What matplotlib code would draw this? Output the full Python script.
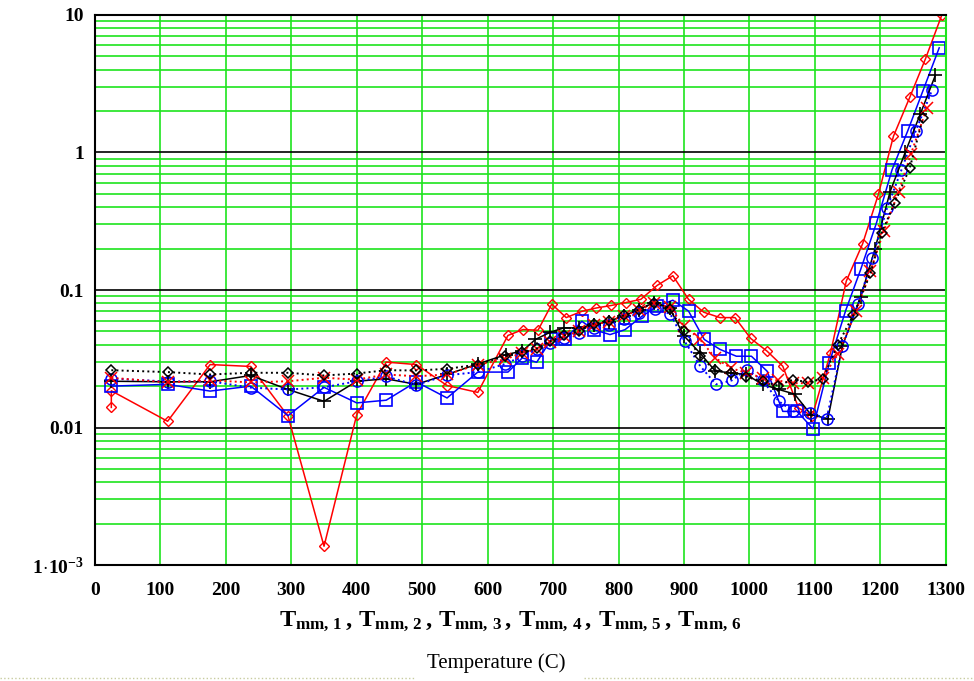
import matplotlib
matplotlib.use("Agg")
import matplotlib.pyplot as plt
from matplotlib.lines import Line2D
from matplotlib.ticker import FixedLocator, NullFormatter, LogLocator

plt.rcParams['font.family'] = ['Liberation Serif', 'DejaVu Serif']
plt.rcParams['mathtext.fontset'] = 'custom'
plt.rcParams['mathtext.rm'] = 'Liberation Serif:bold'
plt.rcParams['mathtext.it'] = 'Liberation Serif:bold'
plt.rcParams['mathtext.bf'] = 'Liberation Serif:bold'

# ---- data (temperature in C, value on log axis) ----
t_red = [25, 25, 111, 176, 238, 295, 350, 400, 445, 491, 538, 585, 631, 654, 677, 698, 720, 744, 766, 789,
         811, 834, 859, 883, 907, 930, 955, 978, 1002, 1027, 1051, 1075, 1096, 1124, 1148, 1173, 1197, 1220,
         1245, 1269, 1294]
v_red = [0.014, 0.0185, 0.0111, 0.0287, 0.0278, 0.0121, 0.00137, 0.0124, 0.0299, 0.0287, 0.0202, 0.018,
         0.0467, 0.0516, 0.051, 0.079, 0.063, 0.070, 0.074, 0.0772, 0.081, 0.0855, 0.108, 0.127, 0.0855,
         0.069, 0.063, 0.063, 0.0444, 0.0359, 0.0279, 0.0139, 0.0121, 0.035, 0.116, 0.217, 0.495, 1.31,
         2.52, 4.8, 10.0]

t_bsq = [25, 111, 176, 238, 295, 350, 400, 445, 491, 538, 585, 631, 653, 675, 697, 718, 744, 762, 787, 810,
         836, 859, 883, 907, 931, 955, 980, 1003, 1027, 1051, 1073, 1097, 1122, 1147, 1170, 1194, 1218, 1242,
         1265, 1290]
v_bsq = [0.0200, 0.0206, 0.0184, 0.0200, 0.0122, 0.0196, 0.0151, 0.0158, 0.0215, 0.0164, 0.0253, 0.0253,
         0.0321, 0.0298, 0.0437, 0.0437, 0.0592, 0.0515, 0.0474, 0.0515, 0.0645, 0.076, 0.0843, 0.0702,
         0.0437, 0.037, 0.033, 0.033, 0.0257, 0.0131, 0.0131, 0.0098, 0.0295, 0.0708, 0.141, 0.306, 0.75,
         1.44, 2.8, 5.77]

t_plus = [25, 111, 176, 238, 295, 350, 400, 445, 491, 538, 585, 628, 653, 673, 696, 717, 739, 762, 785, 808,
          831, 854, 878, 900, 924, 948, 972, 995, 1020, 1045, 1069, 1094, 1120, 1142, 1170, 1192, 1215, 1238,
          1261, 1284]
v_plus = [0.0217, 0.0215, 0.0215, 0.0239, 0.0189, 0.0155, 0.0217, 0.0226, 0.0206, 0.0243, 0.029, 0.0339,
          0.036, 0.0437, 0.0494, 0.0531, 0.053, 0.056, 0.059, 0.065, 0.072, 0.081, 0.074, 0.0464, 0.035,
          0.0257, 0.025, 0.0243, 0.0206, 0.0189, 0.0175, 0.0124, 0.0116, 0.039, 0.089, 0.2, 0.52, 1.0,
          1.9, 3.63]

t_circ = [25, 111, 176, 238, 295, 350, 400, 445, 491, 538, 585, 627, 653, 675, 696, 717, 739, 762, 785, 808,
          831, 856, 879, 901, 925, 949, 973, 996, 1020, 1045, 1067, 1093, 1118, 1142, 1166, 1188, 1210, 1232,
          1254, 1279]
v_circ = [0.0227, 0.0216, 0.0217, 0.0195, 0.0189, 0.0196, 0.0217, 0.0235, 0.0204, 0.024, 0.0253, 0.029,
          0.033, 0.037, 0.041, 0.045, 0.049, 0.053, 0.056, 0.062, 0.068, 0.073, 0.067, 0.0424, 0.0279,
          0.0206, 0.022, 0.0264, 0.022, 0.0155, 0.0131, 0.0128, 0.0116, 0.039, 0.0785, 0.171, 0.392, 0.74,
          1.43, 2.84]

t_x = [25, 111, 176, 238, 295, 350, 400, 445, 491, 538, 585, 627, 653, 675, 696, 717, 739, 762, 785, 808,
       831, 854, 878, 900, 924, 948, 972, 995, 1020, 1043, 1067, 1090, 1112, 1135, 1163, 1185, 1205, 1228,
       1247, 1271]
v_x = [0.023, 0.0213, 0.022, 0.0213, 0.0217, 0.023, 0.0223, 0.0243, 0.0236, 0.0243, 0.0287, 0.0313,
       0.035, 0.037, 0.042, 0.046, 0.050, 0.056, 0.059, 0.065, 0.071, 0.080, 0.075, 0.055, 0.044, 0.032,
       0.027, 0.025, 0.023, 0.022, 0.021, 0.021, 0.0231, 0.034, 0.07, 0.137, 0.267, 0.52, 0.98, 2.1]

t_dia = [25, 111, 176, 238, 295, 350, 400, 445, 491, 538, 585, 627, 653, 675, 696, 717, 739, 762, 785, 808,
         831, 854, 878, 900, 924, 948, 972, 995, 1020, 1043, 1067, 1090, 1112, 1135, 1159, 1185, 1202, 1222,
         1245, 1265]
v_dia = [0.0261, 0.0253, 0.0243, 0.025, 0.025, 0.0239, 0.0247, 0.0261, 0.026, 0.0267, 0.0287, 0.033,
         0.0355, 0.0376, 0.0424, 0.0467, 0.0502, 0.057, 0.0592, 0.0653, 0.072, 0.081, 0.073, 0.050, 0.033,
         0.026, 0.025, 0.0234, 0.0217, 0.0202, 0.0223, 0.0213, 0.0226, 0.04, 0.066, 0.132, 0.26, 0.43,
         0.77, 1.77]

x_ticks = list(range(0, 1301, 100))
y_ticks = [1e-3, 1e-2, 0.1, 1, 10]
y_labels = [r"$1\!\cdot\!10^{-3}$", "0.01", "0.1", "1", "10"]

GREEN = "#1ee41e"

fig = plt.figure(figsize=(9.74, 6.81), dpi=100)
ax = fig.add_axes([0.0975, 0.1703, 0.8735, 0.8077])

ax.plot(t_red, v_red, color="red", lw=1.1, marker="D", ms=5.5, mfc="none", mec="red", mew=1.0)
ax.plot(t_bsq, v_bsq, color="blue", lw=1.1, marker="s", ms=8, mfc="none", mec="blue", mew=1.2)
ax.plot(t_plus, v_plus, color="black", lw=1.1, marker="+", ms=10, mew=1.2)
ax.plot(t_circ, v_circ, color="blue", lw=1.4, ls=":", marker="o", ms=8, mfc="none", mec="blue", mew=1.1)
ax.plot(t_x, v_x, color="red", lw=1.4, ls=":", marker="x", ms=8, mec="red", mew=1.1)
ax.plot(t_dia, v_dia, color="black", lw=1.4, ls=":", marker="D", ms=5.5, mfc="none", mec="black", mew=1.1)

ax.set_yscale("log")
ax.set_xlim(0, 1300)
ax.set_ylim(1e-3, 10)

ax.xaxis.set_major_locator(FixedLocator(x_ticks))
ax.set_xticklabels([str(v) for v in x_ticks], fontsize=14, fontweight="bold")
ax.set_yticks(y_ticks)
ax.set_yticklabels(y_labels, fontsize=14, fontweight="bold")
ax.yaxis.set_minor_locator(LogLocator(base=10, subs=range(2, 10)))
ax.yaxis.set_minor_formatter(NullFormatter())

ax.tick_params(axis="both", which="both", length=0)
ax.tick_params(axis="x", pad=12)
ax.tick_params(axis="y", pad=8)

ax.set_axisbelow(True)
ax.xaxis.grid(True, color=GREEN, lw=1.2)
ax.yaxis.grid(True, which="major", color="black", lw=1.2)
ax.yaxis.grid(True, which="minor", color=GREEN, lw=1.2)

for side in ["left", "bottom", "top"]:
    ax.spines[side].set_color("black")
    ax.spines[side].set_linewidth(1.5)
ax.spines["right"].set_color(GREEN)
ax.spines["right"].set_linewidth(1.5)

fig.text(0.524, 0.088,
         r"$T_{mm,\,1}\,,\,T_{mm,\,2}\,,\,T_{mm,\,3}\,,\,T_{mm,\,4}\,,\,T_{mm,\,5}\,,\,T_{mm,\,6}$",
         ha="center", va="center", fontsize=17.5)
fig.text(0.51, 0.026, "Temperature (C)", ha="center", va="center", fontsize=15)

fig.add_artist(Line2D([0.0, 0.425], [0.004, 0.004], color="#c8cca0", lw=1, ls=":"))
fig.add_artist(Line2D([0.6, 1.0], [0.004, 0.004], color="#c8cca0", lw=1, ls=":"))

fig.savefig("out.png", dpi=100)
